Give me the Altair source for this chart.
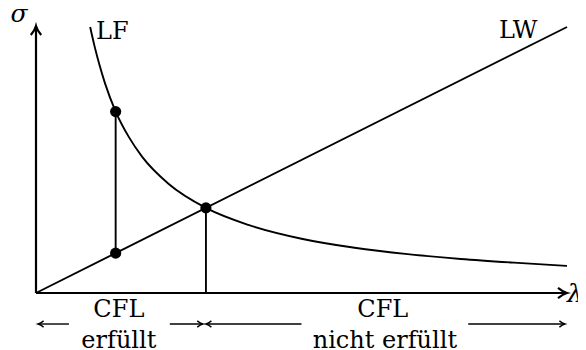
import altair as alt
import pandas as pd

# ---- data (units: lambda 0..10, sigma 0..5) ----
lf_lambda = [1.02, 1.1, 1.2, 1.3, 1.5, 1.75, 2.0, 2.5, 3.2, 4.0, 5.0, 6.0, 7.0, 8.0, 9.0, 10.0]
lf_sigma = [5.0, 4.65, 4.27, 3.94, 3.41, 2.93, 2.56, 2.05, 1.6, 1.28, 1.02, 0.85, 0.73, 0.64, 0.57, 0.51]
lw_lambda = [0.0, 10.0]
lw_sigma = [0.0, 5.0]
dot_lambda = [1.5, 1.5, 3.2]
dot_sigma = [3.41, 0.75, 1.6]
vline_lambda = [1.5, 3.2]
vline_lo = [0.75, 0.0]
vline_hi = [3.41, 1.6]

FONT = "DejaVu Serif"
FS = 24

xs = alt.Scale(domain=[0, 10])
ys = alt.Scale(domain=[0, 5])
X = lambda f: alt.X(f, type="quantitative", scale=xs, axis=None)
Y = lambda f: alt.Y(f, type="quantitative", scale=ys, axis=None)

lf = alt.Chart(pd.DataFrame({"l": lf_lambda, "s": lf_sigma})).mark_line(
    color="black", strokeWidth=1.9, interpolate="monotone"
).encode(x=X("l"), y=Y("s"))

lw = alt.Chart(pd.DataFrame({"l": lw_lambda, "s": lw_sigma})).mark_line(
    color="black", strokeWidth=1.9
).encode(x=X("l"), y=Y("s"))

vl = alt.Chart(pd.DataFrame({"l": vline_lambda, "a": vline_lo, "b": vline_hi})).mark_rule(
    color="black", strokeWidth=1.9
).encode(x=X("l"), y=Y("a"), y2="b")

dots = alt.Chart(pd.DataFrame({"l": dot_lambda, "s": dot_sigma})).mark_circle(
    color="black", size=125, opacity=1
).encode(x=X("l"), y=Y("s"))

# axes
axes = alt.Chart(pd.DataFrame({"x1": [0, 0], "y1": [0, 0], "x2": [0, 10], "y2": [5.02, 0]})).mark_rule(
    color="black", strokeWidth=2.2
).encode(x=X("x1"), y=Y("y1"), x2="x2", y2="y2")

HEAD = "M -2 -1.15 Q -0.9 -0.25 0 0 Q -0.9 0.25 -2 1.15"
axis_heads = alt.Chart(pd.DataFrame({"x": [0, 10], "y": [5.02, 0], "a": [270, 0]})).mark_point(
    shape=HEAD, filled=False, color="black", strokeWidth=2.2, size=81, opacity=1
).encode(x=X("x"), y=Y("y"), angle=alt.Angle("a:Q", scale=None))

# bottom range arrows
arr_y = -0.583
shafts = alt.Chart(pd.DataFrame({
    "x1": [0.04, 2.52, 3.2, 8.14], "x2": [0.62, 3.14, 5.0, 9.96], "y": [arr_y] * 4
})).mark_rule(color="black", strokeWidth=1.4).encode(x=X("x1"), x2="x2", y=Y("y"))

small_heads = alt.Chart(pd.DataFrame({
    "x": [0.04, 3.14, 3.2, 9.96], "y": [arr_y] * 4, "a": [180, 0, 180, 0]
})).mark_point(
    shape=HEAD, filled=False, color="black", strokeWidth=1.4, size=30, opacity=1
).encode(x=X("x"), y=Y("y"), angle=alt.Angle("a:Q", scale=None))

# labels
lab = pd.DataFrame({
    "t": ["LF", "LW", "CFL", "erfüllt", "CFL", "nicht erfüllt"],
    "x": [1.13, 9.08, 1.56, 1.56, 6.53, 6.57],
    "y": [4.77, 4.79, -0.45, -1.03, -0.45, -1.03],
    "al": ["left", "center", "center", "center", "center", "center"],
})
labels_left = alt.Chart(lab[lab.al == "left"]).mark_text(
    font=FONT, fontSize=FS, align="left", baseline="alphabetic", color="black"
).encode(x=X("x"), y=Y("y"), text="t")
labels_center = alt.Chart(lab[lab.al == "center"]).mark_text(
    font=FONT, fontSize=FS, align="center", baseline="alphabetic", color="black"
).encode(x=X("x"), y=Y("y"), text="t")

greek = pd.DataFrame({"t": ["σ", "λ"], "x": [-0.32, 10.15], "y": [5.09, -0.17]})
greek_lab = alt.Chart(greek).mark_text(
    font=FONT, fontSize=FS + 1, fontStyle="italic", align="center", baseline="alphabetic", color="black"
).encode(x=X("x"), y=Y("y"), text="t")

chart = alt.layer(
    lw, lf, vl, axes, axis_heads, shafts, small_heads, dots, labels_left, labels_center, greek_lab
).properties(
    width=531, height=266,
    autosize="none",
    padding={"left": 28, "top": 19, "right": 11, "bottom": 55},
).configure_view(stroke=None)

chart.save("out.html", embed_options={"renderer": "svg", "actions": False})
